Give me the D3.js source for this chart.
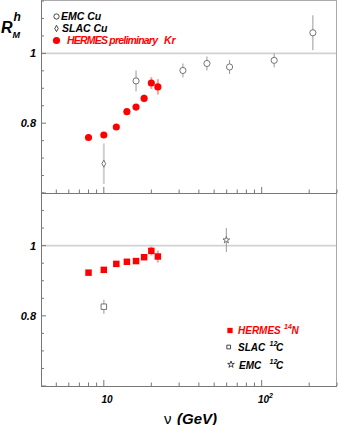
<!DOCTYPE html>
<html>
<head>
<meta charset="utf-8">
<script src="https://cdn.jsdelivr.net/npm/d3@7"></script>
<style>
  body { margin: 0; background: #fff; }
  text { font-family: "Liberation Sans", Arial, sans-serif; font-weight: bold; font-style: italic; }
</style>
</head>
<body>
<script>
// chart size
var width = 338;
var height = 425;

// data
// top panel: Kr / Cu
var nuHermes = [8, 10, 12, 14, 16, 18, 20, 22];
var rKr = [0.759, 0.766, 0.789, 0.833, 0.846, 0.871, 0.915, 0.904];
var rKrErr = [0.007, 0.007, 0.007, 0.008, 0.009, 0.011, 0.017, 0.022];
var nuEmcCu = [16, 31.7, 45, 62.6, 120, 211];
var rEmcCu = [0.921, 0.951, 0.971, 0.961, 0.980, 1.059];
var rEmcCuErr = [0.03, 0.02, 0.02, 0.02, 0.02, 0.05];
var nuSlacCu = [10];
var rSlacCu = [0.684];
var rSlacCuErr = [0.058];
// bottom panel: N / C
var rN = [0.923, 0.931, 0.948, 0.954, 0.956, 0.967, 0.985, 0.969];
var rNErr = [0.005, 0.005, 0.006, 0.006, 0.006, 0.008, 0.013, 0.017];
var nuSlacC = [10];
var rSlacC = [0.826];
var rSlacCErr = [0.02];
var nuEmcC = [59.7];
var rEmcC = [1.016];
var rEmcCErr = [0.034];

// axis ticks
var xMajor = [10, 100];
var xMinor = [5, 6, 7, 8, 9, 20, 30, 40, 50, 60, 70, 80, 90, 200, 300];
var yMajor = [0.6, 0.8, 1.0];
var yMinor = [0.65, 0.7, 0.75, 0.85, 0.9, 0.95, 1.05, 1.1, 1.15];
var yLabels = [0.8, 1];

var left = 41, right = 337;
var panels = [
  { top: 1, bottom: 193 },
  { top: 193, bottom: 386 }
];

var svg = d3.select("body").append("svg")
  .attr("width", width)
  .attr("height", height);

var x = d3.scaleLog().domain([4, 300]).range([left, right]);
panels.forEach(function(p) {
  p.y = d3.scaleLinear().domain([0.6, 1.15]).range([p.bottom, p.top]);
});

var axisColor = "#777";

// frame (top + right lighter)
svg.append("line").attr("x1", left).attr("x2", right).attr("y1", 0.5).attr("y2", 0.5)
   .attr("stroke", "#aaa");
svg.append("line").attr("x1", right - 0.5).attr("x2", right - 0.5).attr("y1", 0).attr("y2", 386)
   .attr("stroke", "#aaa");

panels.forEach(function(p, pi) {
  var g = svg.append("g");
  // reference line at 1
  g.append("line")
    .attr("x1", left).attr("x2", right - 1)
    .attr("y1", p.y(1)).attr("y2", p.y(1))
    .attr("stroke", "#d2d2d2").attr("stroke-width", 1.6);

  // left axis
  g.append("line").attr("x1", left + 0.5).attr("x2", left + 0.5)
    .attr("y1", p.top).attr("y2", p.bottom).attr("stroke", axisColor);
  // bottom axis
  g.append("line").attr("x1", left).attr("x2", right)
    .attr("y1", p.bottom + 0.5).attr("y2", p.bottom + 0.5).attr("stroke", axisColor);

  // y ticks
  g.selectAll("line.ymaj").data(yMajor).enter().append("line")
    .attr("x1", left).attr("x2", left + 5)
    .attr("y1", function(d) { return p.y(d); }).attr("y2", function(d) { return p.y(d); })
    .attr("stroke", axisColor);
  g.selectAll("line.ymin").data(yMinor).enter().append("line")
    .attr("x1", left).attr("x2", left + 3)
    .attr("y1", function(d) { return p.y(d); }).attr("y2", function(d) { return p.y(d); })
    .attr("stroke", axisColor);
  g.selectAll("text.ylab").data(yLabels).enter().append("text")
    .attr("x", 36).attr("y", function(d) { return p.y(d); })
    .attr("dy", "0.36em")
    .attr("text-anchor", "end")
    .attr("font-size", 11)
    .text(function(d) { return d3.format("")(d); });

  // x ticks, pointing up
  g.selectAll("line.xmaj").data(xMajor).enter().append("line")
    .attr("x1", function(d) { return x(d); }).attr("x2", function(d) { return x(d); })
    .attr("y1", p.bottom).attr("y2", p.bottom - 6)
    .attr("stroke", axisColor);
  g.selectAll("line.xmin").data(xMinor).enter().append("line")
    .attr("x1", function(d) { return x(d); }).attr("x2", function(d) { return x(d); })
    .attr("y1", p.bottom).attr("y2", p.bottom - 3.5)
    .attr("stroke", axisColor);
});

// helpers
function errBars(py, nu, r, err, color, w) {
  svg.append("g").selectAll("line").data(nu).enter().append("line")
    .attr("x1", function(d) { return x(d); }).attr("x2", function(d) { return x(d); })
    .attr("y1", function(d, i) { return py(r[i] - err[i]); })
    .attr("y2", function(d, i) { return py(r[i] + err[i]); })
    .attr("stroke", color).attr("stroke-width", w);
}
function markers(py, nu, r, type, size, fill, stroke) {
  svg.append("g").selectAll("path").data(nu).enter().append("path")
    .attr("transform", function(d, i) { return "translate(" + x(d) + "," + py(r[i]) + ")"; })
    .attr("d", d3.symbol().type(type).size(size))
    .attr("fill", fill).attr("stroke", stroke).attr("stroke-width", 0.9);
}
// narrow diamond
var thinDiamond = {
  draw: function(ctx, size) {
    var h = Math.sqrt(size) / 2;
    ctx.moveTo(0, -h);
    ctx.lineTo(h * 0.55, 0);
    ctx.lineTo(0, h);
    ctx.lineTo(-h * 0.55, 0);
    ctx.closePath();
  }
};

var yT = panels[0].y, yB = panels[1].y;

// top panel
errBars(yT, nuSlacCu, rSlacCu, rSlacCuErr, "#cfcfcf", 2);
errBars(yT, nuEmcCu, rEmcCu, rEmcCuErr, "#999", 1);
errBars(yT, nuHermes, rKr, rKrErr, "#f7a0a0", 2);
markers(yT, nuSlacCu, rSlacCu, thinDiamond, 49, "#fff", "#666");
markers(yT, nuEmcCu, rEmcCu, d3.symbolCircle, 30, "#fff", "#666");
markers(yT, nuHermes, rKr, d3.symbolCircle, 40, "#ff0000", "none");

// bottom panel
errBars(yB, nuSlacC, rSlacC, rSlacCErr, "#bbb", 1.5);
errBars(yB, nuEmcC, rEmcC, rEmcCErr, "#999", 1);
errBars(yB, nuHermes, rN, rNErr, "#f7a0a0", 2);
markers(yB, nuSlacC, rSlacC, d3.symbolSquare, 30, "#fff", "#666");
markers(yB, nuEmcC, rEmcC, d3.symbolStar, 14, "#fff", "#666");
markers(yB, nuHermes, rN, d3.symbolSquare, 42, "#ff0000", "none");

// legend top
function legendMark(cx, cy, type, size, fill, stroke) {
  svg.append("path")
    .attr("transform", "translate(" + cx + "," + cy + ")")
    .attr("d", d3.symbol().type(type).size(size))
    .attr("fill", fill).attr("stroke", stroke).attr("stroke-width", 0.9);
}
legendMark(56.5, 16.5, d3.symbolCircle, 22, "#fff", "#333");
legendMark(56.5, 28.5, thinDiamond, 40, "#fff", "#333");
legendMark(56.5, 40.5, d3.symbolCircle, 40, "#ff0000", "none");
svg.append("text").attr("x", 61).attr("y", 20).attr("font-size", 10.5).text("EMC Cu");
svg.append("text").attr("x", 62).attr("y", 32).attr("font-size", 10.5).text("SLAC Cu");
svg.append("text").attr("x", 67).attr("y", 44).attr("font-size", 10.5).attr("fill", "#ff0000")
  .attr("textLength", 91).text("HERMES preliminary");
svg.append("text").attr("x", 164).attr("y", 44).attr("font-size", 10.5).attr("fill", "#ff0000").text("Kr");

// legend bottom
legendMark(230, 330.5, d3.symbolSquare, 28, "#ff0000", "none");
legendMark(228.7, 347, d3.symbolSquare, 14, "#fff", "#333");
legendMark(231, 364.5, d3.symbolStar, 14, "#fff", "#333");
var lb = [
  { x: 238, y: 333.5, name: "HERMES", sx: 284, iso: "14", el: "N", ex: 291.5, color: "#ff0000" },
  { x: 238, y: 351, name: "SLAC", sx: 269.5, iso: "12", el: "C", ex: 276, color: "#000" },
  { x: 239, y: 368.5, name: "EMC", sx: 269.5, iso: "12", el: "C", ex: 276, color: "#000" }
];
lb.forEach(function(d) {
  svg.append("text").attr("x", d.x).attr("y", d.y).attr("font-size", 10).attr("fill", d.color).text(d.name);
  svg.append("text").attr("x", d.sx).attr("y", d.y - 5).attr("font-size", 7).attr("fill", d.color).text(d.iso);
  svg.append("text").attr("x", d.ex).attr("y", d.y).attr("font-size", 10).attr("fill", d.color).text(d.el);
});

// x tick labels
svg.append("text").attr("x", 107).attr("y", 403).attr("text-anchor", "middle")
  .attr("font-size", 10).text("10");
svg.append("text").attr("x", 258).attr("y", 403).attr("font-size", 10).text("10");
svg.append("text").attr("x", 269).attr("y", 398).attr("font-size", 7).text("2");

// x title
svg.append("text").attr("x", 164).attr("y", 423.5).attr("font-size", 15)
  .style("font-style", "normal").style("font-weight", "normal")
  .attr("font-family", "DejaVu Serif").text("ν");
svg.append("text").attr("x", 177).attr("y", 423.5).attr("font-size", 15).text("(GeV)");

// y title R_M^h
svg.append("text").attr("x", 1).attr("y", 33).attr("font-size", 16).text("R");
svg.append("text").attr("x", 13.5).attr("y", 21).attr("font-size", 12).text("h");
svg.append("text").attr("x", 12.5).attr("y", 38).attr("font-size", 9).text("M");
</script>
</body>
</html>
